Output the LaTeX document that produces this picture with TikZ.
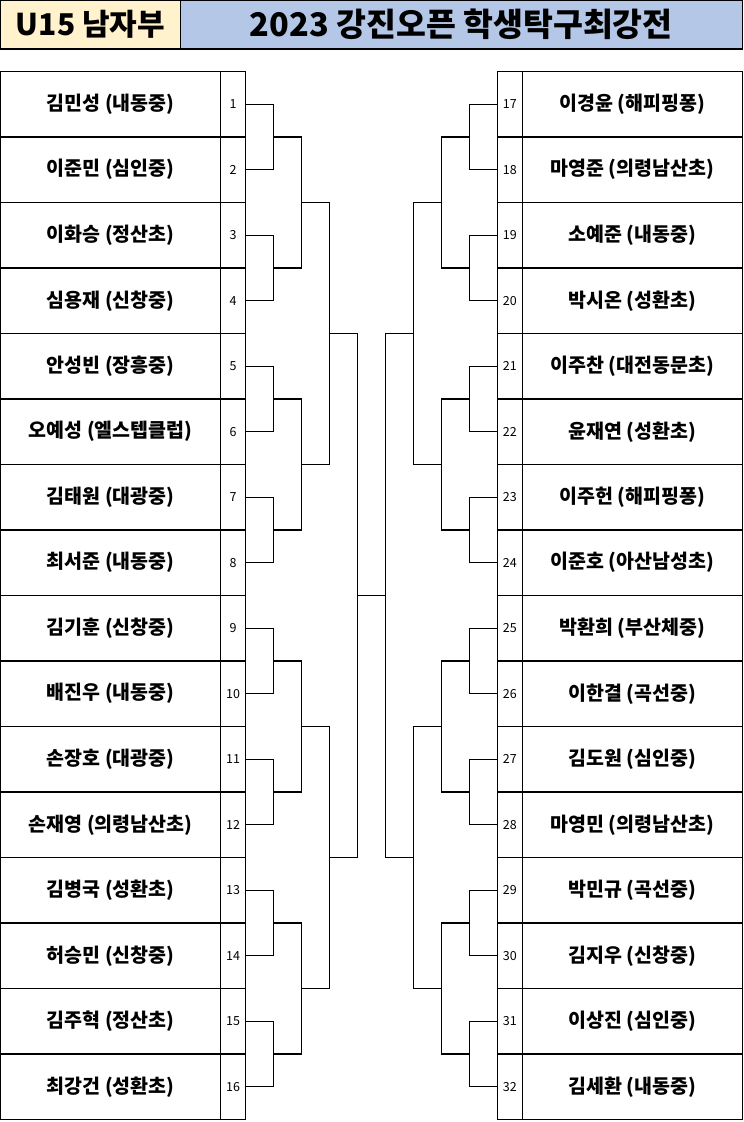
\documentclass[tikz,border=0pt]{standalone}
\usepackage{fontspec}
\setmainfont{Noto Sans CJK KR}
\usetikzlibrary{calc,positioning}
\definecolor{headyellow}{HTML}{FFF2CC}
\definecolor{headblue}{HTML}{B4C7E7}
\tikzset{
 namecell/.style={draw,line width=1.3pt,minimum width=220pt,minimum height=65.5pt,inner sep=0pt,outer sep=0pt,font=\fontsize{19.5}{22}\selectfont\bfseries},
 numcell/.style={draw,line width=1.3pt,minimum width=24.6pt,minimum height=65.5pt,inner sep=0pt,outer sep=0pt,font=\fontsize{12.5}{14}\selectfont},
 headcell/.style={draw,line width=1pt,minimum height=49pt,inner sep=0pt,outer sep=0pt,font=\fontsize{30}{34}\selectfont\bfseries},
 bracket/.style={line width=1.3pt}
}
\begin{document}
\begin{tikzpicture}[x=1pt,y=-1pt]
\useasboundingbox (0,0) rectangle (744,1122);
\node[headcell,fill=headyellow,minimum width=180pt] (div) at (90.5,24.5) {U15 남자부};
\node[headcell,fill=headblue,minimum width=561.5pt,right=0pt of div,font=\fontsize{32.5}{36}\selectfont\bfseries] (title) {2023 강진오픈 학생탁구최강전};
\draw[line width=2.5pt] (div.south west) -- (title.south east);
\foreach \n [count=\i] in {{김민성 (내동중)},{이준민 (심인중)},{이화승 (정산초)},{심용재 (신창중)},
 {안성빈 (장흥중)},{오예성 (엘스텝클럽)},{김태원 (대광중)},{최서준 (내동중)},
 {김기훈 (신창중)},{배진우 (내동중)},{손장호 (대광중)},{손재영 (의령남산초)},
 {김병국 (성환초)},{허승민 (신창중)},{김주혁 (정산초)},{최강건 (성환초)}} {
 \node[namecell] (nm\i) at (110.7,{38.75+65.5*\i}) {\n};
 \node[numcell,right=0pt of nm\i] (no\i) {\i};
 \coordinate (l0-\i) at (no\i.east);
}
\foreach \n [count=\i from 17] in {{이경윤 (해피핑퐁)},{마영준 (의령남산초)},{소예준 (내동중)},{박시온 (성환초)},
 {이주찬 (대전동문초)},{윤재연 (성환초)},{이주헌 (해피핑퐁)},{이준호 (아산남성초)},
 {박환희 (부산체중)},{이한결 (곡선중)},{김도원 (심인중)},{마영민 (의령남산초)},
 {박민규 (곡선중)},{김지우 (신창중)},{이상진 (심인중)},{김세환 (내동중)}} {
 \pgfmathtruncatemacro\j{\i-16}
 \node[numcell,minimum width=25pt] (no\i) at (509.8,{38.75+65.5*\j}) {\i};
 \node[namecell,right=0pt of no\i] (nm\i) {\n};
 \coordinate (r0-\j) at (no\i.west);
}
\foreach \r/\m in {1/8,2/4,3/2,4/1} {
 \pgfmathtruncatemacro\p{\r-1}
 \foreach \k in {1,...,\m} {
  \pgfmathtruncatemacro\a{2*\k-1}
  \pgfmathtruncatemacro\b{2*\k}
  \coordinate (l\r-\k) at ($(l\p-\a)!0.5!(l\p-\b)+(28,0)$);
  \coordinate (r\r-\k) at ($(r\p-\a)!0.5!(r\p-\b)+(-28,0)$);
  \draw[bracket] (l\p-\a) -| (l\r-\k) |- (l\p-\b);
  \draw[bracket] (r\p-\a) -| (r\r-\k) |- (r\p-\b);
 }
}
\draw[bracket] (l4-1) -- (r4-1);
\end{tikzpicture}
\end{document}
